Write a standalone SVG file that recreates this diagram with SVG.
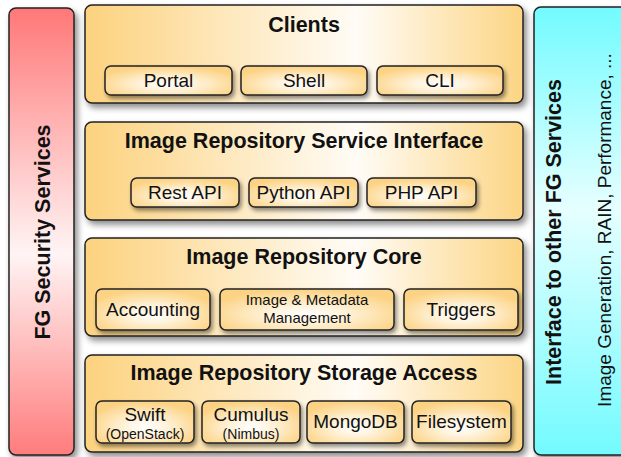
<svg xmlns="http://www.w3.org/2000/svg" width="621" height="457" viewBox="0 0 621 457">
<defs>
<linearGradient id="panel" x1="0" y1="0" x2="1" y2="0">
<stop offset="0" stop-color="#fcd27e"/>
<stop offset="0.62" stop-color="#fffcf6"/>
<stop offset="1" stop-color="#fcd584"/>
</linearGradient>
<radialGradient id="sub" cx="0.5" cy="0.62" r="0.6">
<stop offset="0" stop-color="#ffffff"/>
<stop offset="0.35" stop-color="#fff3dc"/>
<stop offset="1" stop-color="#fcd384"/>
</radialGradient>
<linearGradient id="red" x1="0" y1="0" x2="0" y2="1">
<stop offset="0" stop-color="#ff7878"/>
<stop offset="0.55" stop-color="#fff4f4"/>
<stop offset="1" stop-color="#ff7c7c"/>
</linearGradient>
<linearGradient id="cyan" x1="0" y1="0" x2="0" y2="1">
<stop offset="0" stop-color="#72fbff"/>
<stop offset="0.45" stop-color="#e6ffff"/>
<stop offset="1" stop-color="#72fbff"/>
</linearGradient>
<filter id="sh" x="-10%" y="-10%" width="125%" height="130%">
<feDropShadow dx="3" dy="4" stdDeviation="3" flood-color="#000" flood-opacity="0.45"/>
</filter>
<filter id="sh2" x="-10%" y="-20%" width="130%" height="150%">
<feDropShadow dx="2" dy="3" stdDeviation="2" flood-color="#000" flood-opacity="0.45"/>
</filter>
</defs>
<style>
.panel{fill:url(#panel);stroke:#222;stroke-width:1.5;filter:url(#sh)}
.sub{fill:url(#sub);stroke:#222;stroke-width:1.5;filter:url(#sh2)}
.t{font-family:"Liberation Sans",Arial,sans-serif;fill:#111;text-anchor:middle}
.b{font-weight:bold;font-size:21.5px}
.r{font-size:19px}
.s{font-size:14px}
.m{font-size:15px}
</style>
<rect width="621" height="457" fill="#ffffff"/>

<g id="security">
<rect x="9" y="8" width="65" height="447" rx="7" fill="url(#red)" stroke="#222" stroke-width="1.5" filter="url(#sh)"/>
<text class="t b" transform="translate(50,232) rotate(-90)">FG Security Services</text>
</g>

<g id="interface">
<rect x="534" y="7" width="100" height="448" rx="7" fill="url(#cyan)" stroke="#222" stroke-width="1.5" filter="url(#sh)"/>
<text class="t b" transform="translate(560.5,232) rotate(-90)">Interface to other FG Services</text>
<text class="t r" transform="translate(610.5,230) rotate(-90)">Image Generation, RAIN, Performance, ...</text>
</g>

<g id="clients">
<rect class="panel" x="85" y="5" width="438" height="98" rx="7"/>
<text class="t b" x="304" y="32">Clients</text>
</g>
<g id="portal"><rect class="sub" x="105" y="66" width="127" height="29" rx="6"/><text class="t r" x="168.5" y="87">Portal</text></g>
<g id="shell"><rect class="sub" x="241" y="66" width="126" height="29" rx="6"/><text class="t r" x="304" y="87">Shell</text></g>
<g id="cli"><rect class="sub" x="377" y="66" width="126" height="29" rx="6"/><text class="t r" x="440" y="87">CLI</text></g>

<g id="service-interface">
<rect class="panel" x="85" y="122" width="438" height="98" rx="7"/>
<text class="t b" x="304" y="148">Image Repository Service Interface</text>
</g>
<g id="rest"><rect class="sub" x="131" y="178" width="108" height="29" rx="6"/><text class="t r" x="185" y="199">Rest API</text></g>
<g id="python"><rect class="sub" x="249" y="178" width="109" height="29" rx="6"/><text class="t r" x="303.5" y="199">Python API</text></g>
<g id="php"><rect class="sub" x="367" y="178" width="109" height="29" rx="6"/><text class="t r" x="421.5" y="199">PHP API</text></g>

<g id="core">
<rect class="panel" x="85" y="238" width="438" height="98" rx="7"/>
<text class="t b" x="304" y="264">Image Repository Core</text>
</g>
<g id="accounting"><rect class="sub" x="96" y="289" width="114" height="41" rx="6"/><text class="t r" x="153" y="316">Accounting</text></g>
<g id="metadata"><rect class="sub" x="220" y="289" width="174" height="41" rx="6"/><text class="t m" x="307" y="305">Image &amp; Metadata</text><text class="t m" x="307" y="323">Management</text></g>
<g id="triggers"><rect class="sub" x="404" y="289" width="114" height="41" rx="6"/><text class="t r" x="461" y="316">Triggers</text></g>

<g id="storage">
<rect class="panel" x="85" y="355" width="438" height="97" rx="7"/>
<text class="t b" x="304" y="380">Image Repository Storage Access</text>
</g>
<g id="swift"><rect class="sub" x="96" y="401" width="98" height="42" rx="6"/><text class="t r" x="145" y="421">Swift</text><text class="t s" x="145" y="439">(OpenStack)</text></g>
<g id="cumulus"><rect class="sub" x="202" y="401" width="98" height="42" rx="6"/><text class="t r" x="251" y="421">Cumulus</text><text class="t s" x="251" y="439">(Nimbus)</text></g>
<g id="mongodb"><rect class="sub" x="307" y="401" width="97" height="42" rx="6"/><text class="t r" x="355.5" y="428">MongoDB</text></g>
<g id="filesystem"><rect class="sub" x="412" y="401" width="99" height="42" rx="6"/><text class="t r" x="461.5" y="428">Filesystem</text></g>

<g id="connectors"></g>
</svg>
